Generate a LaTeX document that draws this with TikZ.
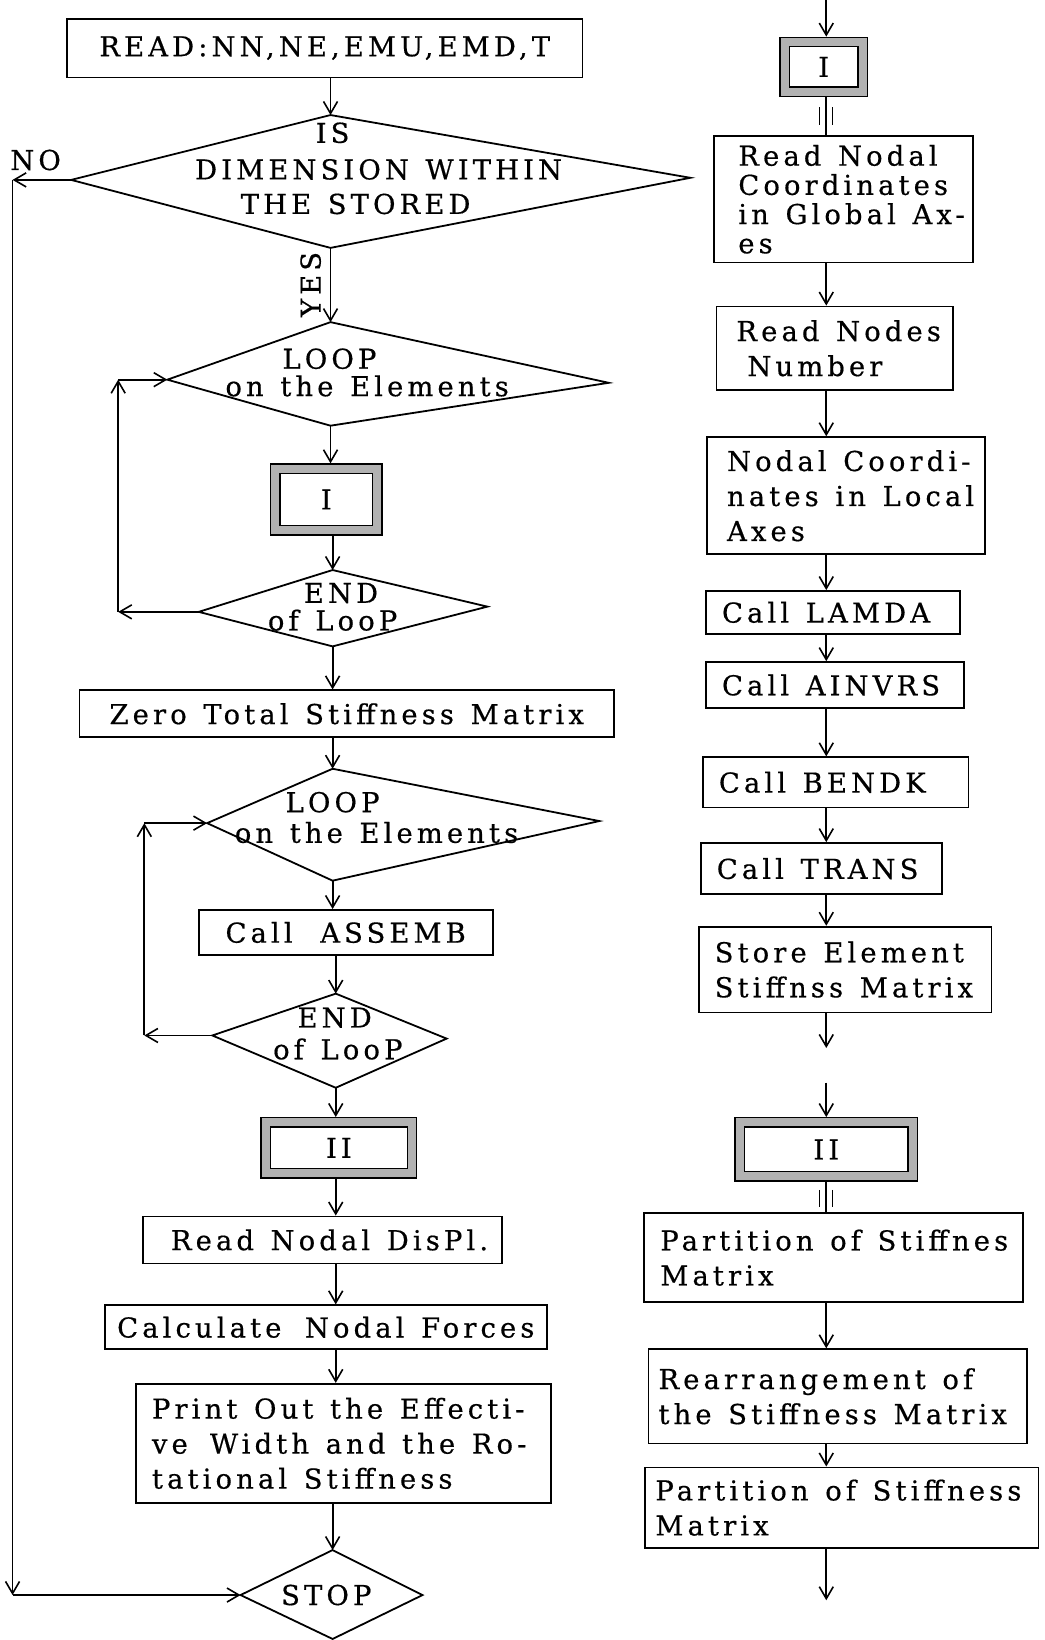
\documentclass[tikz,border=0pt]{standalone}
\usepackage{fontspec}
\setmainfont{DejaVu Serif}[LetterSpace=15, WordSpace=1.3, FakeBold=0.5]
\usetikzlibrary{arrows.meta}
\newcommand\myline[1]{\mbox{\spaceskip=0pt\xspaceskip=0pt #1}}
\begin{document}
\begin{tikzpicture}[x=0.523pt,y=-0.523pt,
  line width=0.9pt,
  font=\fontsize{13.7}{17.5}\selectfont,
  arr/.style={-{Straight Barb[length=6pt,width=7pt,line width=0.8pt]}},
  box/.style={draw, inner ysep=0pt, inner xsep=2pt},
  rbox/.style={draw, inner ysep=0pt, inner xsep=#1, align=left},
  rbox/.default=8pt,
  frame/.style={draw, line width=0.7pt, double=gray!60, double distance=4pt,
    inner sep=0pt, outer sep=2.7pt},
  txt/.style={inner sep=0pt},
  tick/.style={line width=0.7pt},
]
\useasboundingbox (0,0) rectangle (999,1568);

% ---------------- left column ----------------
\node[box, minimum width=257.8pt, minimum height=29.3pt] (read) at (310.5,46) {READ:NN,NE,EMU,EMD,T};

% decision: dimension
\coordinate (d1t) at (316,110);
\coordinate (d1l) at (68,172);
\coordinate (d1r) at (660,170);
\coordinate (d1b) at (316,237);
\draw (d1t) -- (d1r) -- (d1b) -- (d1l) -- cycle;
\node[txt] (d1a) at (318,127) {IS};
\node[txt] (d1c) at (362,162) {DIMENSION WITHIN};
\node[txt] (d1d) at (340,195) {THE STORED};
\node[txt] (nolab) at (34,153) {NO};
\node[txt, rotate=90] (yeslab) at (297,272) {YES};

% loop 1
\coordinate (p1t) at (316,308);
\coordinate (p1l) at (160,363);
\coordinate (p1r) at (582,366);
\coordinate (p1b) at (316,407);
\draw (p1t) -- (p1r) -- (p1b) -- (p1l) -- cycle;
\node[txt] (p1a) at (315,343) {LOOP};
\node[txt] (p1c) at (351,369) {on the Elements};

\node[frame, minimum width=51.1pt, minimum height=30.7pt] (boxI) at (312,477.5) {I};

% end of loop 1
\coordinate (e1t) at (318,545);
\coordinate (e1l) at (190,585);
\coordinate (e1r) at (466,580);
\coordinate (e1b) at (318,618);
\draw (e1t) -- (e1r) -- (e1b) -- (e1l) -- cycle;
\node[txt] (e1a) at (326,567) {END};
\node[txt] (e1c) at (318,593) {of LooP};

\node[box, minimum width=267.3pt, minimum height=23.5pt] (zero) at (331.5,682.5) {Zero Total Stiffness Matrix};

% loop 2
\coordinate (p2t) at (318,735);
\coordinate (p2l) at (198,787);
\coordinate (p2r) at (573,785);
\coordinate (p2b) at (318,842);
\draw (p2t) -- (p2r) -- (p2b) -- (p2l) -- cycle;
\node[txt] (p2a) at (318,767) {LOOP};
\node[txt] (p2c) at (360,796) {on the Elements};

\node[box, minimum width=147pt, minimum height=22.5pt] (assemb) at (330.5,891.5) {Call\hspace{0.4em} ASSEMB};

% end of loop 2
\coordinate (e2t) at (321,950);
\coordinate (e2l) at (203,990);
\coordinate (e2r) at (427,993);
\coordinate (e2b) at (321,1040);
\draw (e2t) -- (e2r) -- (e2b) -- (e2l) -- cycle;
\node[txt] (e2a) at (320,973) {END};
\node[txt] (e2c) at (323,1003) {of LooP};

\node[frame, minimum width=73.1pt, minimum height=25.5pt] (boxII) at (324,1097.5) {II};
\node[box, minimum width=179.4pt, minimum height=23.5pt] (readd) at (308.5,1185.5) {\hspace{0.5em}Read Nodal DisPl.};
\node[box, minimum width=221.2pt, minimum height=22pt] (calc) at (311.5,1269) {Calculate\hspace{0.25em} Nodal Forces};
\node[rbox=8pt, text width=191.6pt, minimum height=59.6pt] (print) at (328.5,1380)
  {\myline{Print Out the Effecti-}\\\myline{ve\hspace{0.2em} Width and the Ro-}\\\myline{tational Stiffness}};

% stop
\coordinate (st) at (318,1482);
\coordinate (sl) at (230,1525);
\coordinate (sr) at (404,1525);
\coordinate (sb) at (318,1567);
\draw (st) -- (sr) -- (sb) -- (sl) -- cycle;
\node[txt] (stoptxt) at (312,1525) {STOP};

% left column connectors
\draw[arr] (read.south -| d1t) -- (d1t);
\draw[arr] (d1b) -- (p1t);
\draw[arr] (p1b) -- (boxI.north -| p1b);
\draw[arr] (boxI.south -| e1t) -- (e1t);
\draw[arr] (e1b) -- (zero.north -| e1b);
\draw[arr] (zero.south -| p2t) -- (p2t);
\draw[arr] (p2b) -- (assemb.north -| p2b);
\draw[arr] (assemb.south -| e2t) -- (e2t);
\draw[arr] (e2b) -- (boxII.north -| e2b);
\draw[arr] (boxII.south -| e2b) -- (readd.north -| e2b);
\draw[arr] (readd.south -| e2b) -- (calc.north -| e2b);
\draw[arr] (calc.south -| e2b) -- (print.north -| e2b);
\draw[arr] (print.south -| st) -- (st);

% NO branch
\coordinate (nc1) at (12,172);
\coordinate (nc2) at (12,1525);
\draw[arr] (d1l) -- (nc1);
\draw[arr] (nc1) -- (nc2);
\draw[arr] (nc2) -- (sl);

% loop-back 1
\coordinate (l1a) at (113,585);
\coordinate (l1b) at (113,363);
\draw[arr] (e1l) -- (l1a);
\draw[arr] (l1a) -- (l1b);
\draw[arr] (l1b) -- (p1l);

% loop-back 2
\coordinate (l2a) at (138,990);
\coordinate (l2b) at (138,787);
\draw[arr] (e2l) -- (l2a);
\draw[arr] (l2a) -- (l2b);
\draw[arr] (l2b) -- (p2l);

% ---------------- right column ----------------
\coordinate (rin) at (790,0);
\node[frame, minimum width=39.1pt, minimum height=24.9pt] (rI) at (787.5,64) {I};
\node[rbox=12pt, text width=105.2pt, minimum height=63.3pt, font=\fontsize{13.7}{14.6}\selectfont] (rnc) at (806.5,190.5)
  {\myline{Read Nodal}\\\myline{Coordinates}\\\myline{in Global Ax-}\\\myline{es}};
\node[rbox=10pt, text width=98.2pt, minimum height=41.8pt] (rnn) at (798,333)
  {\myline{Read Nodes}\\\hspace*{0.4em}\myline{Number}};
\node[rbox=10pt, text width=119.1pt, minimum height=58.6pt] (ncl) at (809,474)
  {\myline{Nodal Coordi-}\\\myline{nates in Local}\\\myline{Axes}};
\node[rbox, text width=111.1pt, minimum height=21.4pt] (lamda) at (796.5,585.5) {\myline{Call LAMDA}};
\node[rbox, text width=113.2pt, minimum height=23pt] (ainvrs) at (798.5,655) {\myline{Call AINVRS}};
\node[rbox, text width=116.8pt, minimum height=25.1pt] (bendk) at (799,748) {\myline{Call BENDK}};
\node[rbox, text width=104.8pt, minimum height=25.6pt] (trans) at (785.5,830.5) {\myline{Call TRANS}};
\node[rbox, text width=130.4pt, minimum height=42.9pt] (store) at (808,927) {\myline{Store Element}\\\myline{Stiffnss Matrix}};
\coordinate (rout1) at (790,1002);
\coordinate (rin2) at (790,1035);
\node[frame, minimum width=86.6pt, minimum height=27pt] (rII) at (790,1099) {II};
\node[rbox, text width=173.3pt, minimum height=44.5pt] (part1) at (797,1202.5) {\myline{Partition of Stiffnes}\\\myline{Matrix}};
\node[rbox=5pt, text width=179.3pt, minimum height=47.1pt] (rearr) at (801,1335) {\myline{Rearrangement of}\\\myline{the Stiffness Matrix}};
\node[rbox=5pt, text width=186.6pt, minimum height=40.3pt] (part2) at (805,1441.5) {\myline{Partition of Stiffness}\\\myline{Matrix}};
\coordinate (rout2) at (790,1530);

% right column connectors
\draw[arr] (rin) -- (rI.north -| rin);
\coordinate (t1) at (rI.south -| rin);
\draw (t1) -- (rnc.north -| rin);
\draw[tick] ([xshift=-3.5pt,yshift=-5pt]t1) -- ++(0,17);
\draw[tick] ([xshift=3pt,yshift=-5pt]t1) -- ++(0,17);
\draw[arr] (rnc.south -| rin) -- (rnn.north -| rin);
\draw[arr] (rnn.south -| rin) -- (ncl.north -| rin);
\draw[arr] (ncl.south -| rin) -- (lamda.north -| rin);
\draw[arr] (lamda.south -| rin) -- (ainvrs.north -| rin);
\draw[arr] (ainvrs.south -| rin) -- (bendk.north -| rin);
\draw[arr] (bendk.south -| rin) -- (trans.north -| rin);
\draw[arr] (trans.south -| rin) -- (store.north -| rin);
\draw[arr] (store.south -| rin) -- (rout1);
\draw[arr] (rin2) -- (rII.north -| rin);
\coordinate (t2) at (rII.south -| rin);
\draw (t2) -- (part1.north -| rin);
\draw[tick] ([xshift=-3.5pt,yshift=-4pt]t2) -- ++(0,16);
\draw[tick] ([xshift=3pt,yshift=-4pt]t2) -- ++(0,16);
\draw[arr] (part1.south -| rin) -- (rearr.north -| rin);
\draw[arr] (rearr.south -| rin) -- (part2.north -| rin);
\draw[arr] (part2.south -| rin) -- (rout2);
\end{tikzpicture}
\end{document}
